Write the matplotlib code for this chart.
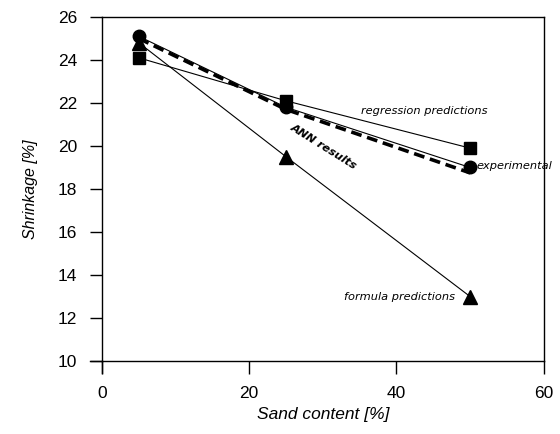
import matplotlib
matplotlib.use("Agg")
import matplotlib.pyplot as plt

plt.rcParams['font.family'] = ['Liberation Sans', 'DejaVu Sans']

# sand content [%]
sand = [5, 25, 50]

# shrinkage [%]
experimental = [25.1, 21.8, 19.0]
ann_results = [25.0, 21.7, 18.75]
regression = [24.1, 22.1, 19.9]
formula = [24.8, 19.5, 13.0]

fig = plt.figure(figsize=(5.6, 4.34), dpi=100)
ax = fig.add_axes([0.182, 0.168, 0.789, 0.793])

ax.plot(sand, formula, color='black', lw=0.8, marker='^', ms=10, zorder=2)
ax.plot(sand, regression, color='black', lw=0.8, marker='s', ms=9, zorder=2)
ax.plot(sand, experimental, color='black', lw=0.8, marker='o', ms=9, zorder=3)
ax.plot(sand, ann_results, color='black', lw=2.6, ls=(0, (3, 1.6)), zorder=4)

note = dict(fontsize=8.2, style='italic', family='DejaVu Sans')
ax.text(35.2, 21.5, 'regression predictions', **note)
ax.text(50.9, 18.95, 'experimental', **note)
ax.text(25.5, 20.8, 'ANN results', rotation=-32, rotation_mode='anchor',
        fontweight='bold', **note)
ax.text(32.9, 12.82, 'formula predictions', **note)

ax.set_xlim(0, 60)
ax.set_ylim(10, 26)
ax.set_xticks([0, 20, 40, 60])
ax.set_yticks(range(10, 27, 2))
ax.tick_params(direction='out', length=9, width=1, labelsize=12.5, pad=9)
for s in ax.spines.values():
    s.set_linewidth(1)

# axis lines run a little past the corner
ax.plot([-0.027, 0], [0, 0], transform=ax.transAxes, color='black', lw=1, clip_on=False)
ax.plot([0, 0], [-0.035, 0], transform=ax.transAxes, color='black', lw=1, clip_on=False)

ax.set_xlabel('Sand content [%]', fontsize=12.5, style='italic', labelpad=4)
ax.set_ylabel('Shrinkage [%]', fontsize=11.5, style='italic', labelpad=14)

fig.savefig('out.png', dpi=100)
